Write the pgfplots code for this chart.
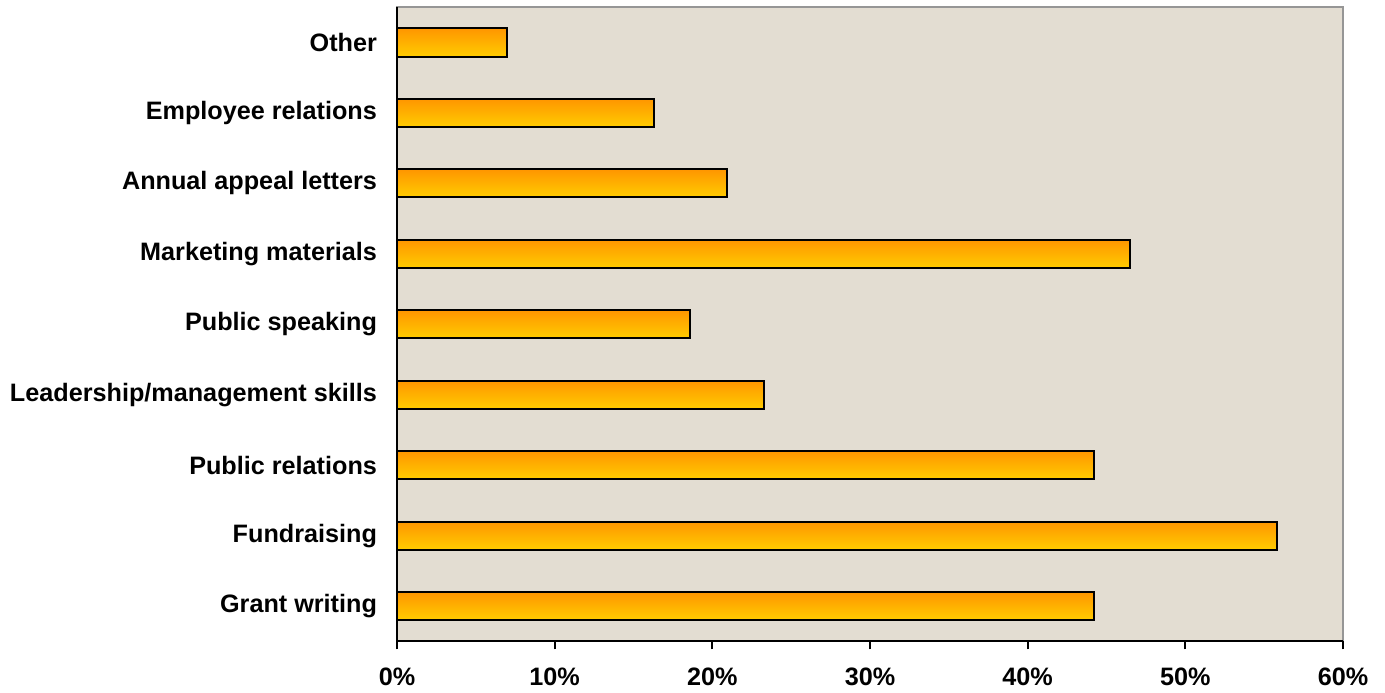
\documentclass[border=0pt]{standalone}
\usepackage{pgfplots}
\pgfplotsset{compat=1.18}
\usepackage{fontspec}
\setmainfont{Liberation Sans}
\definecolor{bg}{RGB}{227,221,210}
\definecolor{bartop}{RGB}{255,150,0}
\definecolor{barbot}{RGB}{255,204,0}
\definecolor{frame}{RGB}{150,150,150}
\begin{document}
\begin{tikzpicture}
\begin{axis}[
  scale only axis,
  width=473pt, height=317pt,
  xmin=0, xmax=60,
  ymin=-0.5, ymax=8.5,
  xbar,
  bar width=0.4,
  bar shift=0pt,
  axis x line*=bottom,
  axis y line*=left,
  axis line style={black, line width=1pt},
  axis background/.style={fill=bg, draw=frame, line width=1pt},
  xtick={0,10,20,30,40,50,60},
  xticklabel={\pgfmathprintnumber{\tick}\%},
  /pgf/number format/assume math mode=true,
  ytick={0,1,2,3,4,5,6,7,8},
  yticklabels={Grant writing,Fundraising,Public relations,Leadership/management skills,Public speaking,Marketing materials,Annual appeal letters,Employee relations,Other},
  tick label style={font=\fontsize{12.6}{14}\selectfont\bfseries, text=black},
  xtick style={black, line width=1pt},
  tick align=outside,
  major tick length=4pt,
  ytick style={draw=none},
  yticklabel style={xshift=-2.5pt},
  xticklabel style={yshift=-6pt},
  clip=false,
  barstyle/.style={xbar, bar shift=0pt, draw=black, line width=1pt, top color=bartop, bottom color=barbot, forget plot},
]
\addplot[barstyle] coordinates {(44.2,0)};
\addplot[barstyle] coordinates {(55.8,1)};
\addplot[barstyle] coordinates {(44.2,2)};
\addplot[barstyle] coordinates {(23.3,3)};
\addplot[barstyle] coordinates {(18.6,4)};
\addplot[barstyle] coordinates {(46.5,5)};
\addplot[barstyle] coordinates {(20.9,6)};
\addplot[barstyle] coordinates {(16.3,7)};
\addplot[barstyle] coordinates {(7.0,8)};
\path (rel axis cs:0,0) ++(-198.5pt,-25.5pt) coordinate (bl);
\path (rel axis cs:1,1) ++(21pt,3.65pt) coordinate (tr);
\end{axis}
\path (bl) rectangle (tr);
\end{tikzpicture}
\end{document}
